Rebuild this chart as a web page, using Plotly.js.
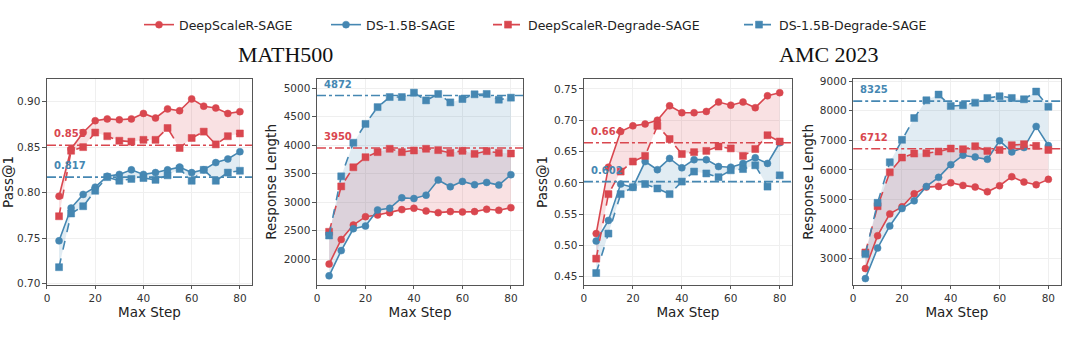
<!DOCTYPE html>
<html><head><meta charset="utf-8">
<script src="https://cdn.plot.ly/plotly-3.0.1.min.js"></script>
<style>html,body{margin:0;padding:0;background:#fff}#chart{width:1080px;height:340px}</style>
</head><body><div id="chart"></div>
<script>
// ---------- data ----------
const steps = [5,10,15,20,25,30,35,40,45,50,55,60,65,70,75,80];
const seriesNames = ["DeepScaleR-SAGE","DS-1.5B-SAGE","DeepScaleR-Degrade-SAGE","DS-1.5B-Degrade-SAGE"];
const panelTitles = ["MATH500","AMC 2023"];
const xTicks = [0,20,40,60,80];

// MATH500 Pass@1
const math_pass_dsr      = [0.796,0.848,0.866,0.879,0.881,0.880,0.881,0.887,0.882,0.892,0.890,0.903,0.895,0.893,0.887,0.889];
const math_pass_ds15     = [0.747,0.783,0.798,0.806,0.818,0.820,0.825,0.820,0.822,0.825,0.828,0.822,0.825,0.833,0.837,0.845];
const math_pass_dsr_deg  = [0.774,0.846,0.850,0.866,0.862,0.857,0.856,0.858,0.858,0.871,0.849,0.860,0.867,0.853,0.862,0.865];
const math_pass_ds15_deg = [0.718,0.777,0.785,0.802,0.817,0.813,0.815,0.816,0.814,0.819,0.826,0.813,0.825,0.813,0.822,0.824];
const math_pass_refs = [0.852, 0.817];

// MATH500 Response Length
const math_len_dsr      = [1911,2343,2596,2744,2774,2815,2868,2892,2844,2815,2833,2827,2833,2874,2856,2903];
const math_len_ds15     = [1705,2148,2532,2579,2862,2892,3075,3063,3122,3388,3270,3364,3305,3346,3299,3482];
const math_len_dsr_deg  = [2478,3276,3612,3789,3878,3937,3878,3907,3937,3913,3866,3901,3848,3896,3866,3854];
const math_len_ds15_deg = [2413,3453,4043,4374,4669,4846,4846,4923,4787,4900,4752,4811,4894,4900,4799,4835];
const math_len_refs = [3950, 4872];

// AMC 2023 Pass@1
const amc_pass_dsr      = [0.519,0.625,0.682,0.691,0.694,0.700,0.723,0.712,0.712,0.714,0.729,0.724,0.729,0.720,0.739,0.744];
const amc_pass_ds15     = [0.507,0.540,0.598,0.593,0.634,0.621,0.639,0.624,0.637,0.637,0.626,0.625,0.631,0.640,0.631,0.664];
const amc_pass_dsr_deg  = [0.479,0.582,0.618,0.634,0.643,0.691,0.670,0.646,0.649,0.651,0.658,0.655,0.643,0.654,0.676,0.666];
const amc_pass_ds15_deg = [0.456,0.519,0.582,0.593,0.598,0.591,0.582,0.602,0.618,0.615,0.609,0.620,0.622,0.628,0.594,0.612];
const amc_pass_refs = [0.664, 0.602];

// AMC 2023 Response Length
const amc_len_dsr      = [2660,3771,4509,4747,5189,5416,5439,5563,5473,5416,5257,5461,5768,5586,5495,5677];
const amc_len_ds15     = [2320,3352,4100,4690,4951,5439,5745,6176,6494,6437,6357,6981,6607,6754,7469,6822];
const amc_len_dsr_deg  = [3204,4770,5915,6414,6550,6562,6618,6720,6698,6800,6641,6675,6834,6868,6811,6675];
const amc_len_ds15_deg = [3148,4883,6255,7015,7752,8354,8546,8161,8184,8274,8433,8490,8433,8388,8648,8138];
const amc_len_refs = [6712, 8325];

// ---------- style ----------
const RED = '#d9474f', BLUE = '#4587b2';
const RED_FILL = 'rgba(217,71,79,0.16)', BLUE_FILL = 'rgba(69,135,178,0.16)';

const panels = [
  {ax:'', data:[math_pass_dsr,math_pass_ds15,math_pass_dsr_deg,math_pass_ds15_deg], refs:math_pass_refs, fmt:v=>v.toFixed(3), title:'Pass@1'},
  {ax:'2', data:[math_len_dsr,math_len_ds15,math_len_dsr_deg,math_len_ds15_deg], refs:math_len_refs, fmt:v=>String(v), title:'Response Length'},
  {ax:'3', data:[amc_pass_dsr,amc_pass_ds15,amc_pass_dsr_deg,amc_pass_ds15_deg], refs:amc_pass_refs, fmt:v=>v.toFixed(3), title:'Pass@1'},
  {ax:'4', data:[amc_len_dsr,amc_len_ds15,amc_len_dsr_deg,amc_len_ds15_deg], refs:amc_len_refs, fmt:v=>String(v), title:'Response Length'}
];
const colors = [RED, BLUE, RED, BLUE];
const dashes = ['solid','solid','dash','dash'];
const symbols = ['circle','circle','square','square'];
const legendIds = ['legend','legend2','legend3','legend4'];
const legendX = [139,326,488,739];

const traces = [];
const shapes = [];
const annotations = [];

panels.forEach((p, pi) => {
  const xa = 'x'+p.ax, ya = 'y'+p.ax;
  [[0,2,RED_FILL],[1,3,BLUE_FILL]].forEach(([a,b,fc]) => {
    traces.push({
      x: steps.concat(steps.slice().reverse()),
      y: p.data[a].concat(p.data[b].slice().reverse()),
      xaxis:xa, yaxis:ya, type:'scatter', mode:'lines', fill:'toself',
      fillcolor: fc, line:{width:0}, hoverinfo:'skip', showlegend:false
    });
  });
  [[p.refs[0],RED],[p.refs[1],BLUE]].forEach(([v,c]) => {
    shapes.push({type:'line', xref:xa+' domain', yref:ya, x0:0, x1:1, y0:v, y1:v,
      line:{color:c, width:1.6, dash:'dashdot'}, layer:'above'});
    annotations.push({xref:xa, yref:ya, x:2, y:v, text:'<b>'+p.fmt(v)+'</b>', showarrow:false,
      xanchor:'left', yanchor:'bottom', yshift:4, font:{size:10, color:c, family:'DejaVu Sans'}});
  });
  [0,1,2,3].forEach(i => {
    traces.push({
      x: steps, y: p.data[i], xaxis:xa, yaxis:ya, type:'scatter', mode:'lines+markers',
      name: seriesNames[i], legend: legendIds[i], showlegend: pi===0,
      line:{color:colors[i], width:1.6, dash:dashes[i]},
      marker:{color:colors[i], symbol:symbols[i], size:7, line:{color:colors[i], width:0.5}}
    });
  });
});

const xDomains = [[0.0435,0.2333],[0.2935,0.4843],[0.5407,0.7333],[0.790,0.982]];
const yDomain = [0.162,0.768];
const yRanges = [[0.6985,0.925],[1545,5165],[0.437,0.766],[2105,9078]];
const yDticks = [0.05,500,0.05,1000];
const yFormats = ['.2f','d','.2f','d'];

const layout = {
  width:1080, height:340, margin:{l:0,r:0,t:0,b:0},
  paper_bgcolor:'#fff', plot_bgcolor:'#fff',
  font:{family:'DejaVu Sans', color:'#222'},
  showlegend:true,
  shapes:shapes,
  annotations: annotations.concat([
    {xref:'paper', yref:'paper', x:285/1080, y:1-55/340, text:panelTitles[0], showarrow:false,
     xanchor:'center', yanchor:'middle', font:{family:'Liberation Serif', size:22, color:'#111'}},
    {xref:'paper', yref:'paper', x:829/1080, y:1-55/340, text:panelTitles[1], showarrow:false,
     xanchor:'center', yanchor:'middle', font:{family:'Liberation Serif', size:22, color:'#111'}}
  ])
};
legendIds.forEach((id, i) => {
  layout[id] = {orientation:'h', x:legendX[i]/1080, xanchor:'left', y:1-25/340, yanchor:'middle',
    font:{size:12.5, color:'#222'}, bgcolor:'rgba(0,0,0,0)', borderwidth:0};
});

panels.forEach((p, i) => {
  const xk = 'xaxis'+p.ax, yk = 'yaxis'+p.ax;
  layout[xk] = {domain:xDomains[i], anchor:'y'+p.ax, range:[0,85], tickvals:xTicks,
    showline:true, mirror:true, linecolor:'#555', linewidth:1, ticks:'outside', ticklen:3.5, tickcolor:'#555',
    showgrid:true, gridcolor:'#efefef', zeroline:false, tickfont:{size:10.5, color:'#333'},
    title:{text:'Max Step', font:{size:13.5, color:'#222'}, standoff:3}};
  layout[yk] = {domain:yDomain, anchor:'x'+p.ax, range:yRanges[i], dtick:yDticks[i], tickformat:yFormats[i],
    showline:true, mirror:true, linecolor:'#555', linewidth:1, ticks:'outside', ticklen:3.5, tickcolor:'#555',
    showgrid:true, gridcolor:'#efefef', zeroline:false, tickfont:{size:10.5, color:'#333'},
    title:{text:p.title, font:{size:13.5, color:'#222'}, standoff:3}};
});

Plotly.newPlot('chart', traces, layout, {staticPlot:true, displayModeBar:false});
</script></body></html>
